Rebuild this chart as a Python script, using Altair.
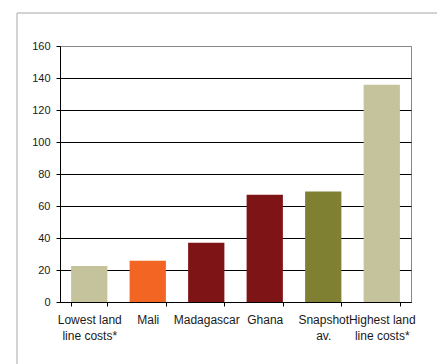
import altair as alt
import pandas as pd

categories = ["Lowest land|line costs*", "Mali", "Madagascar", "Ghana", "Snapshot|av.", "Highest land|line costs*"]
values = [22.5, 25.8, 37.0, 67.0, 69.0, 135.8]
colors = ["#c5c39b", "#f26522", "#7f1416", "#7f1416", "#808033", "#c5c39b"]
y_ticks = [0, 20, 40, 60, 80, 100, 120, 140, 160]

df = pd.DataFrame({"cat": categories, "val": values, "col": colors})

FONT = "Liberation Sans"

bars = alt.Chart(df).mark_bar(stroke=None).encode(
    x=alt.X("cat:N", sort=categories, title=None,
            scale=alt.Scale(paddingInner=0.38, paddingOuter=0.19),
            axis=alt.Axis(labelAngle=0, labelExpr="split(datum.label, '|')",
                          labelFont=FONT, labelFontSize=12, labelColor="#1a1a1a",
                          labelLineHeight=16, labelPadding=8, labelBaseline="top",
                          domainColor="black", tickColor="black", tickSize=4,
                          tickBand="extent", grid=False)),
    y=alt.Y("val:Q", title=None,
            scale=alt.Scale(domain=[0, 160], nice=False),
            axis=alt.Axis(values=y_ticks, labelFont=FONT, labelFontSize=11,
                          labelColor="#1a1a1a", labelPadding=6,
                          domainColor="black", tickColor="black", tickSize=4,
                          gridColor=alt.condition(alt.datum.value == 160, alt.value("#888888"), alt.value("black")),
                          gridWidth=1)),
    color=alt.Color("col:N", scale=None, legend=None),
)

frame_data = alt.Data(values=[{"a": 1}])
frame_left = alt.Chart(frame_data).mark_rule(color="#c4c4c4", strokeWidth=1.5).encode(
    x=alt.value(-43), y=alt.value(-33), y2=alt.value(400))
frame_top = alt.Chart(frame_data).mark_rule(color="#c4c4c4", strokeWidth=1.5).encode(
    x=alt.value(-43), x2=alt.value(377), y=alt.value(-33))

chart = alt.layer(frame_left, frame_top, bars).properties(
    width=351, height=256,
    autosize=alt.AutoSizeParams(type="none"),
    padding={"left": 60, "top": 46, "right": 26, "bottom": 62},
    background="white",
).configure_view(stroke="#888888", strokeWidth=1)

chart.save("out.html", embed_options={"renderer": "svg", "actions": False})
